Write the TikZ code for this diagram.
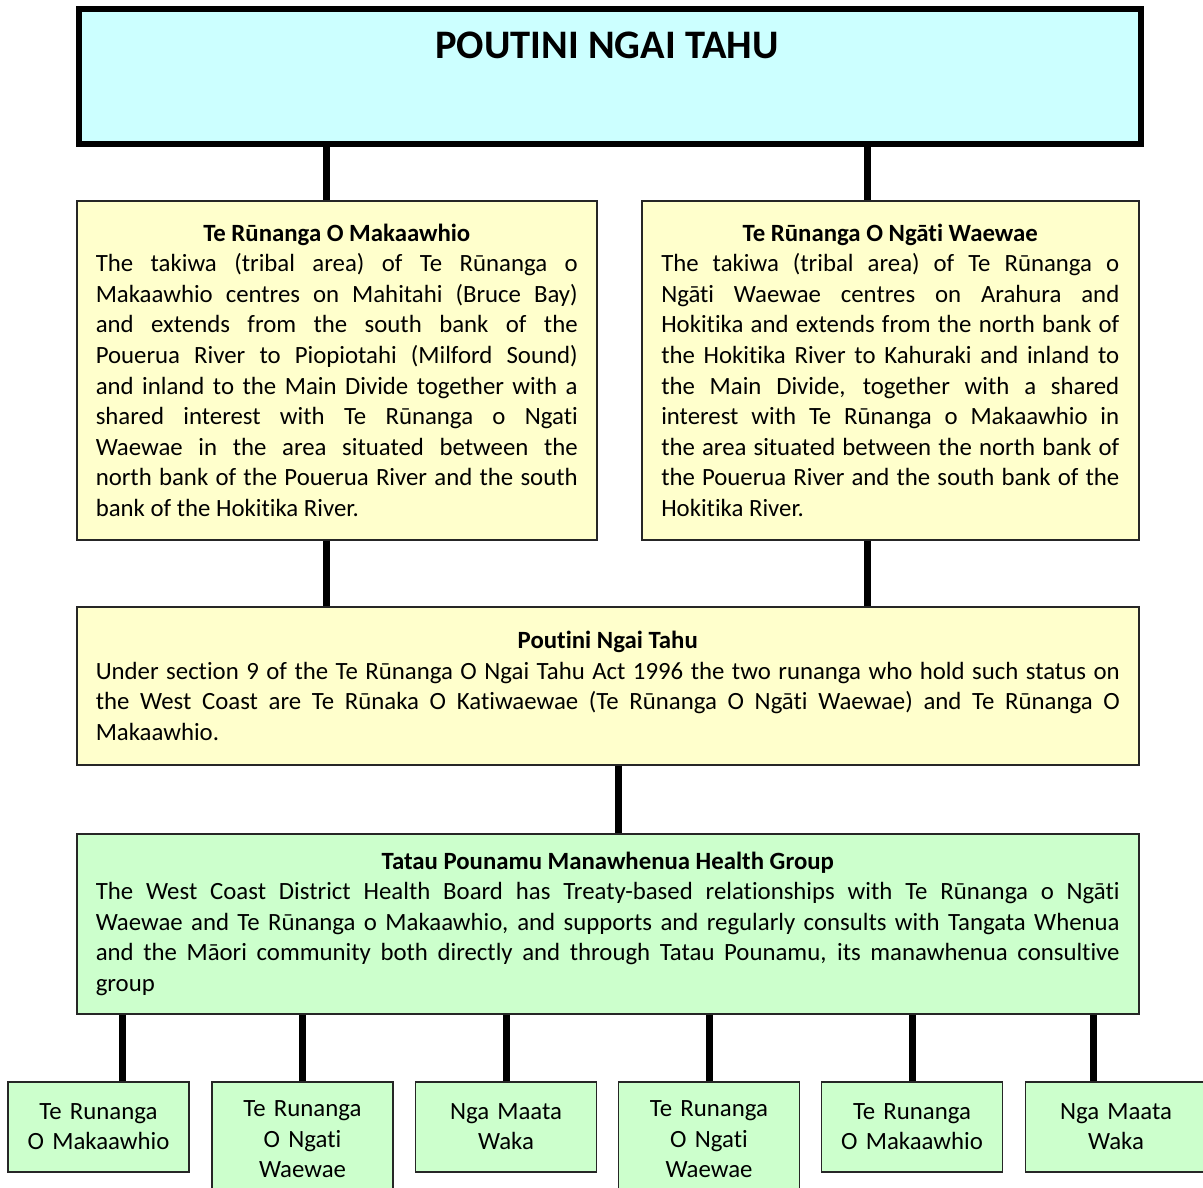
\documentclass[tikz,border=0pt]{standalone}
\usepackage{fontspec}
\setmainfont[Ligatures=NoCommon]{Carlito}
\definecolor{topcyan}{RGB}{204,255,255}
\definecolor{runyellow}{RGB}{255,255,204}
\definecolor{healthgreen}{RGB}{204,255,204}
\tikzset{
  textbox/.style={draw=black!85, line width=1.5pt, align=justify, inner xsep=19pt, inner ysep=8pt,
    anchor=north west, font=\fontsize{24.8}{30.6}\selectfont},
  smallbox/.style={draw=black!85, line width=1.5pt, fill=healthgreen, align=center, text width=170pt,
    inner xsep=5.5pt, inner ysep=19pt, minimum height=90pt, anchor=north,
    font=\fontsize{24.8}{30.6}\selectfont},
  link/.style={line width=7pt, black}
}
\hyphenpenalty=10000
\begin{document}
\begin{tikzpicture}[x=1pt,y=1pt,yscale=-1]
\useasboundingbox (0,0) rectangle (1203,1187);

%Shape: Rectangle [top]
\node [draw=black, line width=6pt, fill=topcyan, minimum width=1061.5pt, minimum height=135pt,
  anchor=north west, inner sep=0pt] (top) at (76,5.5) {};
% Text Node
\node [font=\fontsize{40.5}{44}\selectfont\bfseries, inner sep=0pt] (title) at (607,45) {POUTINI NGAI TAHU};

%Shape: Rectangle [left runanga]
\node [textbox, fill=runyellow, text width=482pt, minimum height=339pt] (mak) at (76,200) {%
\centerline{\bfseries Te Rūnanga O Makaawhio}
\noindent The takiwa (tribal area) of Te Rūnanga o\linebreak
Makaawhio centres on Mahitahi (Bruce Bay)\linebreak
and extends from the south bank of the\linebreak
Pouerua River to Piopiotahi (Milford Sound)\linebreak
and inland to the Main Divide together with a\linebreak
shared interest with Te Rūnanga o Ngati\linebreak
Waewae in the area situated between the\linebreak
north bank of the Pouerua River and the south\linebreak
bank of the Hokitika River.};

%Shape: Rectangle [right runanga]
\node [textbox, fill=runyellow, text width=458pt, inner xsep=19.5pt, minimum height=339pt] (ngw) at (641,200) {%
\centerline{\bfseries Te Rūnanga O Ngāti Waewae}
\noindent The takiwa (tribal area) of Te Rūnanga o\linebreak
Ngāti Waewae centres on Arahura and\linebreak
Hokitika and extends from the north bank of\linebreak
the Hokitika River to Kahuraki and inland to\linebreak
the Main Divide, together with a shared\linebreak
interest with Te Rūnanga o Makaawhio in\linebreak
the area situated between the north bank of\linebreak
the Pouerua River and the south bank of the\linebreak
Hokitika River.};

%Shape: Rectangle [poutini]
\node [textbox, fill=runyellow, text width=1024pt, minimum height=158pt] (pnt) at (76,606) {%
\centerline{\bfseries Poutini Ngai Tahu}
\noindent Under section 9 of the Te Rūnanga O Ngai Tahu Act 1996 the two runanga who hold such status on\linebreak
the West Coast are Te Rūnaka O Katiwaewae (Te Rūnanga O Ngāti Waewae) and Te Rūnanga O\linebreak
Makaawhio.};

%Shape: Rectangle [health group]
\node [textbox, fill=healthgreen, text width=1024pt, minimum height=180pt] (tpg) at (76,833) {%
\centerline{\bfseries Tatau Pounamu Manawhenua Health Group}
\noindent The West Coast District Health Board has Treaty-based relationships with Te Rūnanga o Ngāti\linebreak
Waewae and Te Rūnanga o Makaawhio, and supports and regularly consults with Tangata Whenua\linebreak
and the Māori community both directly and through Tatau Pounamu, its manawhenua consultive\linebreak
group};

%Shape: Rectangle [bottom row]
\node [smallbox] (b1) at (98.5,1081) {Te Runanga\\O Makaawhio};
\node [smallbox] (b2) at (302.5,1081) {Te Runanga\\O Ngati\\Waewae};
\node [smallbox] (b3) at (506,1081) {Nga Maata\\Waka};
\node [smallbox] (b4) at (709,1081) {Te Runanga\\O Ngati\\Waewae};
\node [smallbox] (b5) at (912,1081) {Te Runanga\\O Makaawhio};
\node [smallbox] (b6) at (1116,1081) {Nga Maata\\Waka};

%Straight Lines
\draw [link] (top.south -| 326,0) -- (mak.north -| 326,0);
\draw [link] (top.south -| 867,0) -- (ngw.north -| 867,0);
\draw [link] (mak.south -| 326,0) -- (pnt.north -| 326,0);
\draw [link] (ngw.south -| 867,0) -- (pnt.north -| 867,0);
\draw [link] (pnt.south -| 618,0) -- (tpg.north -| 618,0);
\draw [link] (tpg.south -| 122,0) -- (b1.north -| 122,0);
\draw [link] (tpg.south -| b2.north) -- (b2.north);
\draw [link] (tpg.south -| b3.north) -- (b3.north);
\draw [link] (tpg.south -| b4.north) -- (b4.north);
\draw [link] (tpg.south -| b5.north) -- (b5.north);
\draw [link] (tpg.south -| 1093,0) -- (b6.north -| 1093,0);

\end{tikzpicture}
\end{document}
